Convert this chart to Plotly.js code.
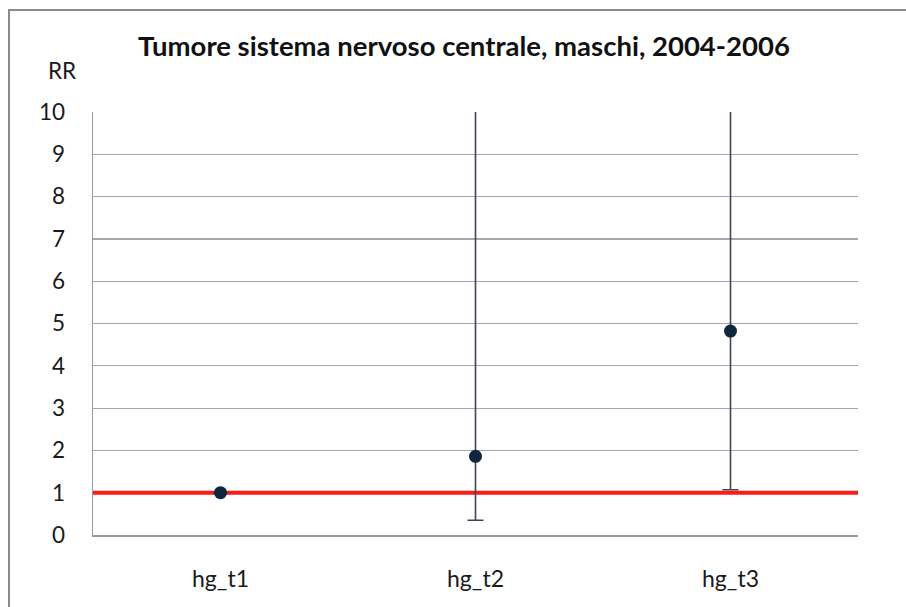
<!DOCTYPE html>
<html>
<head>
<meta charset="utf-8">
<script src="https://cdn.plot.ly/plotly-3.0.1.min.js"></script>
<style>
  html, body { margin: 0; padding: 0; background: #fff; }
  #wrap { position: relative; width: 906px; height: 607px; overflow: hidden; }
  #chart { width: 906px; height: 607px; }
  #frame { position: absolute; left: 8px; top: 9px; width: 960px; height: 700px;
           border: 2px solid #8c8c8c; pointer-events: none; box-sizing: border-box; }
</style>
</head>
<body>
<div id="wrap">
  <div id="chart"></div>
  <div id="frame"></div>
</div>
<script>
// Data
const categories = ["hg_t1", "hg_t2", "hg_t3"];
const rr = [1.0, 1.86, 4.82];
const ciLower = [1.0, 0.35, 1.07];
const ciUpper = [1.0, 14.0, 25.0];   // upper bounds run off the top of the chart (>10)
const referenceRR = 1;
const yTicks = [0, 1, 2, 3, 4, 5, 6, 7, 8, 9, 10];

const xPos = categories.map((_, i) => i);
const errPlus = rr.map((v, i) => ciUpper[i] - v);
const errMinus = rr.map((v, i) => v - ciLower[i]);

const fontFam = "Lato, 'Open Sans', sans-serif";
const xRange = [-0.5, categories.length - 0.5];

// reference line RR = 1 spanning the whole axis
const refTrace = {
  type: "scatter",
  mode: "lines",
  x: xRange,
  y: xRange.map(() => referenceRR),
  line: { color: "#ff1a1a", width: 4 },
  hoverinfo: "skip"
};

const trace = {
  type: "scatter",
  mode: "markers",
  x: xPos,
  y: rr,
  text: categories,
  marker: { color: "#10263f", size: 13 },
  error_y: {
    type: "data",
    symmetric: false,
    array: errPlus,
    arrayminus: errMinus,
    color: "#3c4550",
    thickness: 1.6,
    width: 8
  },
  cliponaxis: true,
  hoverinfo: "text+y"
};

const layout = {
  width: 906,
  height: 607,
  margin: { l: 93, r: 48, t: 112, b: 72 },
  paper_bgcolor: "#ffffff",
  plot_bgcolor: "#ffffff",
  showlegend: false,
  font: { family: fontFam, color: "#1a1a1a" },
  title: {
    text: "<b>Tumore sistema nervoso centrale, maschi, 2004-2006</b>",
    font: { family: fontFam, size: 27.5, color: "#111" },
    x: 464 / 906, xref: "container", xanchor: "center",
    y: 1 - 46 / 607, yref: "container", yanchor: "middle"
  },
  xaxis: {
    type: "linear",
    range: xRange,
    tickvals: xPos,
    ticktext: categories,
    showgrid: false,
    showline: true,
    linecolor: "#9a9a9a",
    linewidth: 1.5,
    ticks: "",
    tickfont: { family: fontFam, size: 23, color: "#1a1a1a" },
    ticklabelstandoff: 23,
    zeroline: false,
    fixedrange: true
  },
  yaxis: {
    range: [0, 10],
    tickvals: yTicks,
    ticktext: yTicks.map(String),
    showgrid: true,
    gridcolor: "#a6a6a6",
    gridwidth: 1.2,
    showline: true,
    linecolor: "#9a9a9a",
    linewidth: 1.5,
    zeroline: false,
    ticks: "",
    tickfont: { family: fontFam, size: 22.5, color: "#1a1a1a" },
    ticklabelstandoff: 22,
    fixedrange: true
  },
  annotations: [{
    text: "RR",
    xref: "paper", yref: "paper",
    x: -31 / 765, y: 1 + 42 / 423,
    xanchor: "center", yanchor: "middle",
    showarrow: false,
    font: { family: fontFam, size: 22.5, color: "#1a1a1a" }
  }]
};

Plotly.newPlot("chart", [refTrace, trace], layout, { displayModeBar: false, staticPlot: true });
</script>
</body>
</html>
